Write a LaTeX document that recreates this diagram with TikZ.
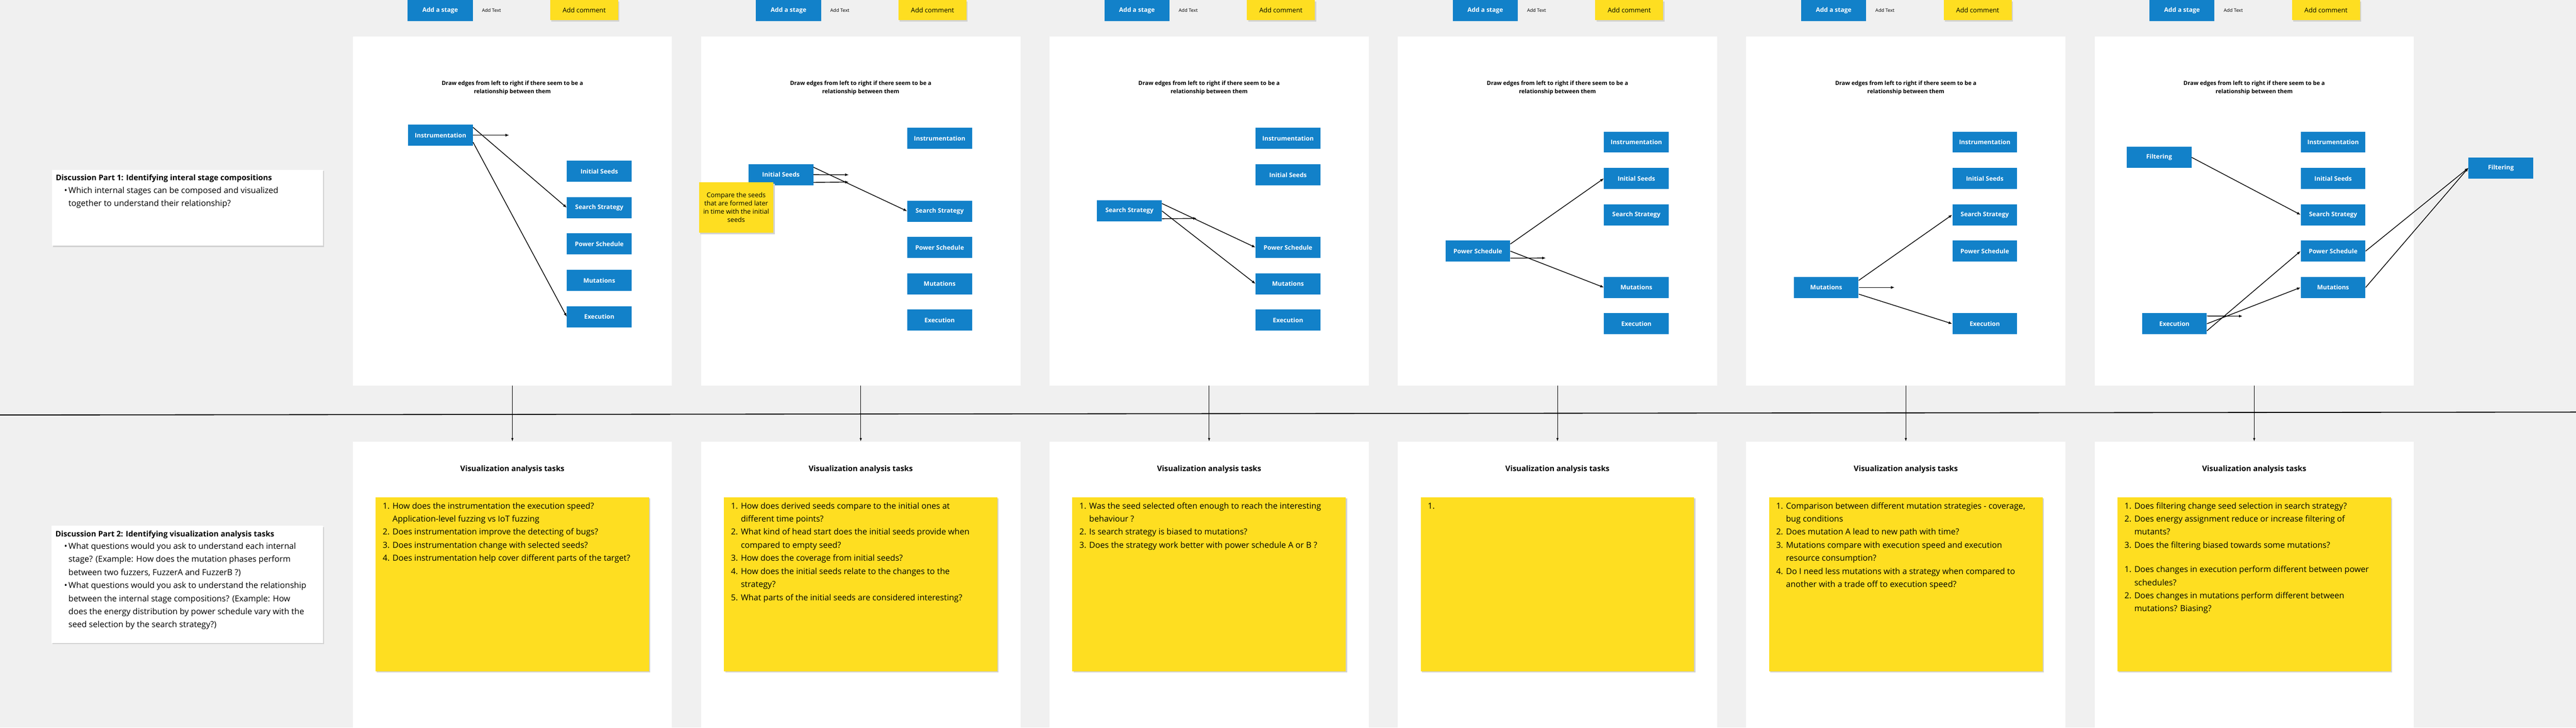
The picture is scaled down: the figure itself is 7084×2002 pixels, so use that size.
\documentclass[tikz,border=0pt]{standalone}
\usepackage{fontspec}
\setmainfont{Open Sans}
\usetikzlibrary{arrows.meta}
\definecolor{bgc}{HTML}{F0F0F0}
\definecolor{bluec}{HTML}{1281C9}
\definecolor{yelc}{HTML}{FEDE21}
\definecolor{shc}{HTML}{D2D2D2}
\newcounter{lnc}
\newcommand\tline[3]{\stepcounter{lnc}\node[tl] (ln\arabic{lnc}) at (#1,#2) {#3};}
\newcommand\titem[4]{\stepcounter{lnc}\node[tl] (ln\arabic{lnc}) at (#1,#2) {\makebox[13.5pt][l]{#3}#4};}
\newcommand\bitem[3]{\stepcounter{lnc}\node[tl] (ln\arabic{lnc}) at (#1,#2) {\makebox[0pt][r]{\makebox[6pt][l]{\textbullet}}#3};}
\tikzset{
  stage/.style={fill=bluec, text=white, font=\fontsize{8.5}{10}\selectfont\bfseries, minimum width=89pt, minimum height=29pt, inner sep=0pt},
  stagebtn/.style={fill=bluec, text=white, font=\fontsize{8.5}{10}\selectfont\bfseries, minimum width=89.5pt, minimum height=29pt, inner sep=0pt},
  shadowed/.style={preaction={fill=shc, transform canvas={shift={(1.6pt,-2pt)}}}},
  commentbtn/.style={fill=yelc, shadowed, font=\fontsize{9}{11}\selectfont, minimum width=93.5pt, minimum height=27.5pt, inner sep=0pt},
  addtext/.style={anchor=west, inner sep=0pt, font=\fontsize{6.5}{8}\selectfont},
  panel/.style={fill=white, inner sep=0pt, minimum width=439pt},
  sticky/.style={fill=yelc, shadowed, inner sep=0pt, minimum width=376pt, minimum height=239.5pt},
  disc/.style={fill=white, shadowed, inner sep=0pt},
  tl/.style={anchor=base west, inner sep=0pt, font=\fontsize{11.4}{13}\selectfont},
  ttl/.style={anchor=base west, inner sep=0pt, font=\fontsize{10.6}{13}\selectfont\bfseries},
  head/.style={anchor=base, inner sep=0pt, font=\fontsize{7.8}{9}\selectfont\bfseries},
  vhead/.style={anchor=base, inner sep=0pt, font=\fontsize{10.5}{13}\selectfont\bfseries},
  edge/.style={line width=1pt, -{Latex[length=5pt,width=4pt]}},
  varrow/.style={line width=0.7pt, -{Latex[length=4.5pt,width=3.2pt]}},
  hline/.style={line width=1.3pt}
}
\begin{document}
\begin{tikzpicture}[x=0.5pt,y=-0.5pt]
\fill[bgc] (0,0) rectangle (7084,2002);
\useasboundingbox (0,0) rectangle (7084,2002);

% ---------- top panels ----------
\node[panel, minimum height=480.5pt] (tp1) at (1409,580.5) {};
\node[panel, minimum height=480.5pt] (tp2) at (2367,580.5) {};
\node[panel, minimum height=480.5pt] (tp3) at (3325,580.5) {};
\node[panel, minimum height=480.5pt] (tp4) at (4283,580.5) {};
\node[panel, minimum height=480.5pt] (tp5) at (5241,580.5) {};
\node[panel, minimum height=480.5pt] (tp6) at (6199,580.5) {};
% ---------- bottom panels ----------
\node[panel, minimum height=393.5pt] (bp1) at (1409,1608.5) {};
\node[panel, minimum height=393.5pt] (bp2) at (2367,1608.5) {};
\node[panel, minimum height=393.5pt] (bp3) at (3325,1608.5) {};
\node[panel, minimum height=393.5pt] (bp4) at (4283,1608.5) {};
\node[panel, minimum height=393.5pt] (bp5) at (5241,1608.5) {};
\node[panel, minimum height=393.5pt] (bp6) at (6199,1608.5) {};

% ---------- separator and links ----------
\coordinate (hl) at (0,1142);
\coordinate (hr) at (7084,1134);
\draw[hline] (hl) -- (hr);
\foreach \i in {1,...,6}{\draw[varrow] (tp\i.south) -- (bp\i.north);}

% ---------- buttons, headings, stickies ----------
\foreach \i/\L in {1/970,2/1928,3/2886,4/3844,5/4802,6/5760}{
  \node[stagebtn] (as\i) at (\L+240.5,29) {Add a stage};
  \node[addtext] (at\i) at (\L+355,28) {Add Text};
  \node[commentbtn] (ac\i) at (\L+636.5,27.5) {Add comment};
  \node[head] (hA\i) at (\L+439,234) {Draw edges from left to right if there seem to be a};
  \node[head] (hB\i) at (\L+439,257) {relationship between them};
  \node[vhead] (vh\i) at (\L+439,1297) {Visualization analysis tasks};
  \node[sticky] (st\i) at (\L+439,1607.5) {};
}

% ---------- panel 1 ----------
\node[stage] (p1in) at (1211.5,372) {Instrumentation};
\node[stage] (p1is) at (1648,471.5) {Initial Seeds};
\node[stage] (p1ss) at (1648,571.5) {Search Strategy};
\node[stage] (p1ps) at (1648,671.5) {Power Schedule};
\node[stage] (p1mu) at (1648,771.5) {Mutations};
\node[stage] (p1ex) at (1648,871.5) {Execution};
\coordinate (p1d) at (1400,372);
\draw[edge] ([yshift=-4pt]p1in.north east) -- (p1ss.west);
\draw[edge] (p1in.east) -- (p1d);
\draw[edge] ([yshift=5pt]p1in.south east) -- (p1ex.west);

% ---------- panel 2 ----------
\node[stage] (p2in) at (2584,381) {Instrumentation};
\node[stage] (p2ss) at (2584,581) {Search Strategy};
\node[stage] (p2ps) at (2584,681) {Power Schedule};
\node[stage] (p2mu) at (2584,781) {Mutations};
\node[stage] (p2ex) at (2584,881) {Execution};
\node[stage] (p2is) at (2147.5,480.5) {Initial Seeds};
\coordinate (p2d1) at (2334,481);
\coordinate (p2d2) at (2334,501);
\draw[edge] ([yshift=-4.5pt]p2is.north east) -- (p2ss.west);
\draw[edge] (p2is.east) -- (p2d1);
\draw[edge] ([yshift=4pt]p2is.south east) -- (p2d2);
\node[fill=yelc, shadowed, minimum width=102.5pt, minimum height=69pt, inner sep=0pt] (p2note) at (2024.5,571) {};
\node[anchor=base, inner sep=0pt, font=\fontsize{9}{11}\selectfont] (p2n1) at (2024.5,543) {Compare the seeds};
\node[anchor=base, inner sep=0pt, font=\fontsize{9}{11}\selectfont] (p2n2) at (2024.5,566) {that are formed later};
\node[anchor=base, inner sep=0pt, font=\fontsize{9}{11}\selectfont] (p2n3) at (2024.5,589) {in time with the initial};
\node[anchor=base, inner sep=0pt, font=\fontsize{9}{11}\selectfont] (p2n4) at (2024.5,612) {seeds};

% ---------- panel 3 ----------
\node[stage] (p3in) at (3542,381) {Instrumentation};
\node[stage] (p3is) at (3542,481) {Initial Seeds};
\node[stage] (p3ps) at (3542,681) {Power Schedule};
\node[stage] (p3mu) at (3542,781) {Mutations};
\node[stage] (p3ex) at (3542,881) {Execution};
\node[stage] (p3ss) at (3106,580.5) {Search Strategy};
\coordinate (p3d) at (3291,601);
\draw[edge] ([yshift=-4.5pt]p3ss.north east) -- (p3ps.west);
\draw[edge] (p3ss.east) -- (p3mu.west);
\draw[edge] ([yshift=4pt]p3ss.south east) -- (p3d);

% ---------- panel 4 ----------
\node[stage] (p4in) at (4500,391) {Instrumentation};
\node[stage] (p4is) at (4500,491) {Initial Seeds};
\node[stage] (p4ss) at (4500,591) {Search Strategy};
\node[stage] (p4mu) at (4500,791) {Mutations};
\node[stage] (p4ex) at (4500,891) {Execution};
\node[stage] (p4ps) at (4064,691) {Power Schedule};
\coordinate (p4d) at (4251,710);
\draw[edge] ([yshift=-5pt]p4ps.north east) -- (p4is.west);
\draw[edge] (p4ps.east) -- (p4mu.west);
\draw[edge] ([yshift=5pt]p4ps.south east) -- (p4d);

% ---------- panel 5 ----------
\node[stage] (p5in) at (5458,391) {Instrumentation};
\node[stage] (p5is) at (5458,491) {Initial Seeds};
\node[stage] (p5ss) at (5458,591) {Search Strategy};
\node[stage] (p5ps) at (5458,691) {Power Schedule};
\node[stage] (p5ex) at (5458,891) {Execution};
\node[stage] (p5mu) at (5022,791) {Mutations};
\coordinate (p5d) at (5210,791);
\draw[edge] ([yshift=-5pt]p5mu.north east) -- (p5ss.west);
\draw[edge] (p5mu.east) -- (p5d);
\draw[edge] ([yshift=5.5pt]p5mu.south east) -- (p5ex.west);

% ---------- panel 6 ----------
\node[stage] (p6in) at (6416,391) {Instrumentation};
\node[stage] (p6is) at (6416,491) {Initial Seeds};
\node[stage] (p6ss) at (6416,591) {Search Strategy};
\node[stage] (p6ps) at (6416,691) {Power Schedule};
\node[stage] (p6mu) at (6416,791) {Mutations};
\node[stage] (p6fi) at (5937.5,433) {Filtering};
\node[stage] (p6ex) at (5979.5,891) {Execution};
\node[stage] (p6f2) at (6877.5,462) {Filtering};
\coordinate (p6d) at (6167,870);
\draw[edge] (p6fi.east) -- (p6ss.west);
\draw[edge] ([yshift=-4pt]p6ex.north east) -- (p6d);
\draw[edge] (p6ex.east) -- (p6mu.west);
\draw[edge] ([yshift=5pt]p6ex.south east) -- (p6ps.west);
\draw[edge] (p6ps.east) -- (p6f2.west);
\draw[edge] (p6mu.east) -- (p6f2.west);

% ---------- discussion boxes ----------
\node[disc, minimum width=372.5pt, minimum height=104.5pt] (d1) at (515.5,571.5) {};
\node[ttl] (d1t) at (153,497) {Discussion Part 1: Identifying interal stage compositions};
\bitem{188}{532}{Which internal stages can be composed and visualized}
\tline{188}{568}{together to understand their relationship?}

\node[disc, minimum width=373pt, minimum height=161pt] (d2) at (515,1608) {};
\node[ttl] (d2t) at (152,1477) {Discussion Part 2: Identifying visualization analysis tasks};
\bitem{188}{1511}{What questions would you ask to understand each internal}
\tline{188}{1547}{stage? (Example: How does the mutation phases perform}
\tline{188}{1583}{between two fuzzers, FuzzerA and FuzzerB ?)}
\bitem{188}{1619}{What questions would you ask to understand the relationship}
\tline{188}{1655}{between the internal stage compositions? (Example: How}
\tline{188}{1691}{does the energy distribution by power schedule vary with the}
\tline{188}{1727}{seed selection by the search strategy?)}

% ---------- task texts ----------
\titem{1052}{1400}{1.}{How does the instrumentation the execution speed?}
\tline{1079}{1436}{Application-level fuzzing vs IoT fuzzing}
\titem{1052}{1472}{2.}{Does instrumentation improve the detecting of bugs?}
\titem{1052}{1508}{3.}{Does instrumentation change with selected seeds?}
\titem{1052}{1544}{4.}{Does instrumentation help cover different parts of the target?}

\titem{2010}{1400}{1.}{How does derived seeds compare to the initial ones at}
\tline{2037}{1436}{different time points?}
\titem{2010}{1472}{2.}{What kind of head start does the initial seeds provide when}
\tline{2037}{1508}{compared to empty seed?}
\titem{2010}{1544}{3.}{How does the coverage from initial seeds?}
\titem{2010}{1580}{4.}{How does the initial seeds relate to the changes to the}
\tline{2037}{1616}{strategy?}
\titem{2010}{1652}{5.}{What parts of the initial seeds are considered interesting?}

\titem{2968}{1400}{1.}{Was the seed selected often enough to reach the interesting}
\tline{2995}{1436}{behaviour ?}
\titem{2968}{1472}{2.}{Is search strategy is biased to mutations?}
\titem{2968}{1508}{3.}{Does the strategy work better with power schedule A or B ?}

\titem{3926}{1400}{1.}{}

\titem{4884}{1400}{1.}{Comparison between different mutation strategies - coverage,}
\tline{4911}{1436}{bug conditions}
\titem{4884}{1472}{2.}{Does mutation A lead to new path with time?}
\titem{4884}{1508}{3.}{Mutations compare with execution speed and execution}
\tline{4911}{1544}{resource consumption?}
\titem{4884}{1580}{4.}{Do I need less mutations with a strategy when compared to}
\tline{4911}{1616}{another with a trade off to execution speed?}

\titem{5842}{1400}{1.}{Does filtering change seed selection in search strategy?}
\titem{5842}{1436}{2.}{Does energy assignment reduce or increase filtering of}
\tline{5869}{1472}{mutants?}
\titem{5842}{1508}{3.}{Does the filtering biased towards some mutations?}
\titem{5842}{1575}{1.}{Does changes in execution perform different between power}
\tline{5869}{1611}{schedules?}
\titem{5842}{1647}{2.}{Does changes in mutations perform different between}
\tline{5869}{1683}{mutations? Biasing?}
\end{tikzpicture}
\end{document}
